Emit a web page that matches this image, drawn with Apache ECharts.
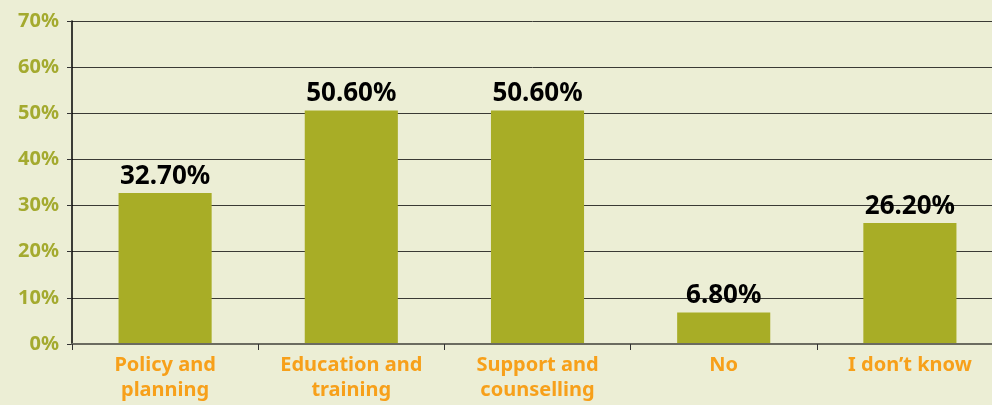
<!DOCTYPE html>
<html><head><meta charset="utf-8">
<script src="https://cdn.jsdelivr.net/npm/echarts@6/dist/echarts.min.js"></script>
<style>html,body{margin:0;padding:0;background:#ECEED5;overflow:hidden;}#c{width:992px;height:405px;}</style>
</head><body><div id="c"></div>
<script>
var categories = ["Policy and\nplanning", "Education and\ntraining", "Support and\ncounselling", "No", "I don\u2019t know"];
var values = [32.7, 50.6, 50.6, 6.8, 26.2];
var yTicks = [0, 10, 20, 30, 40, 50, 60, 70];

var chart = echarts.init(document.getElementById('c'));
chart.setOption({
  backgroundColor: '#ECEED5',
  animation: false,
  grid: { left: 72, width: 931, top: 21, bottom: 61, containLabel: false, outerBoundsMode: 'none' },
  xAxis: {
    type: 'category',
    data: categories,
    axisLine: { show: true, lineStyle: { color: '#6b6b60', width: 2 } },
    axisTick: { show: true, length: 6, lineStyle: { color: '#333', width: 1 } },
    axisLabel: {
      color: '#F7A01A', fontFamily: 'Noto Sans', fontWeight: 'bold', fontSize: 20,
      lineHeight: 25, margin: 9, interval: 0
    },
    z: 3
  },
  yAxis: {
    type: 'value', min: 0, max: 70, interval: 10,
    axisLine: { show: true, lineStyle: { color: '#000', width: 1.5 } },
    axisTick: { show: true, length: 5, lineStyle: { color: '#333' } },
    splitLine: { show: true, lineStyle: { color: '#3a3a35', width: 1 } },
    axisLabel: {
      color: '#A4AA2F', fontFamily: 'Noto Sans', fontWeight: 'bold', fontSize: 20, margin: 13,
      formatter: function (v) { return yTicks.indexOf(v) >= 0 ? v + '%' : ''; }
    }
  },
  series: [{
    type: 'bar',
    data: values,
    barWidth: '50%',
    itemStyle: { color: '#A8AD26' },
    label: {
      show: true, position: 'top', distance: 4,
      color: '#000', fontFamily: 'Noto Sans', fontWeight: 'bold', fontSize: 26,
      formatter: function (p) { return p.value.toFixed(2) + '%'; }
    }
  }]
});
</script></body></html>
